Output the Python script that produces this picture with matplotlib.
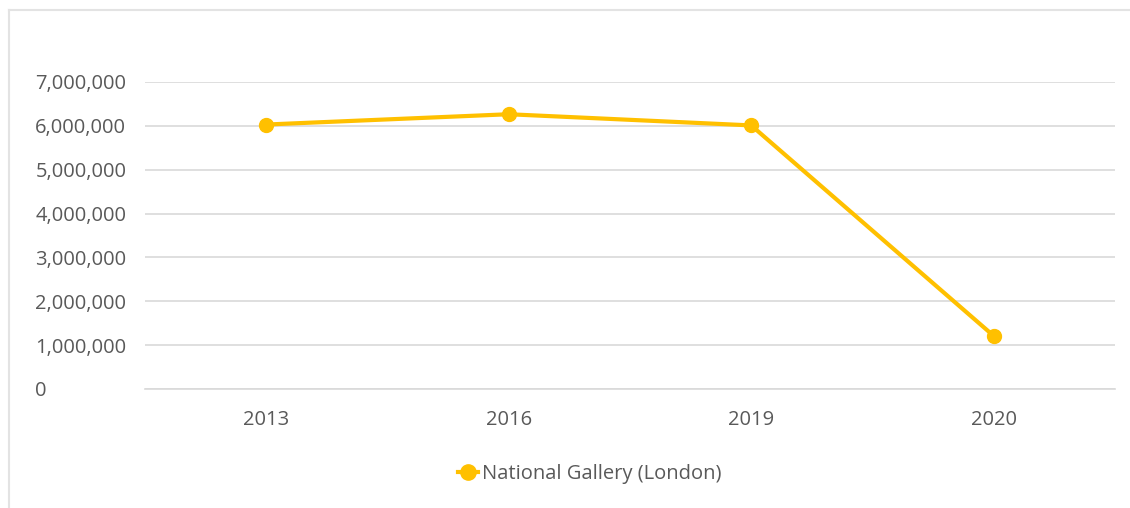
import matplotlib.pyplot as plt
from matplotlib.lines import Line2D
from matplotlib.ticker import FuncFormatter

# dados
anos = ['2013', '2016', '2019', '2020']
visitantes = [6030000, 6265000, 6010000, 1210000]
serie = 'National Gallery (London)'
y_ticks = [0, 1000000, 2000000, 3000000, 4000000, 5000000, 6000000, 7000000]

COR = '#FFC000'
TEXTO = '#595959'
GRADE = '#D9D9D9'
FS = 14.5

plt.rcParams['font.family'] = ['Open Sans', 'DejaVu Sans']

fig = plt.figure(figsize=(11.3, 5.08), dpi=100)
ax = fig.add_axes([145 / 1130, 1 - 389 / 508, (1115 - 145) / 1130, (389 - 82) / 508])

x = range(len(anos))
ax.plot(x, visitantes, color=COR, linewidth=3, marker='o', markersize=10,
        solid_capstyle='round', zorder=3, clip_on=False)

ax.set_xlim(-0.5, len(anos) - 0.5)
ax.set_ylim(0, 7000000)
ax.set_xticks(list(x))
ax.set_xticklabels(anos)
ax.set_yticks(y_ticks)
ax.yaxis.set_major_formatter(FuncFormatter(lambda v, p: f'{int(v):,}'))
ax.grid(axis='y', color=GRADE, linewidth=1.2)
ax.set_axisbelow(True)

for s in ['top', 'right', 'left']:
    ax.spines[s].set_visible(False)
ax.spines['bottom'].set_color(GRADE)
ax.spines['bottom'].set_linewidth(1.2)

ax.tick_params(axis='both', length=0, colors=TEXTO, labelsize=FS)
ax.tick_params(axis='x', pad=15)
for lbl in ax.get_yticklabels():
    lbl.set_horizontalalignment('left')
# rótulos alinhados à esquerda em x ~ 35 px (110 px = 79 pt)
ax.tick_params(axis='y', pad=79)

# borda do gráfico (só topo e esquerda visíveis)
fig.add_artist(Line2D([8.5 / 1130, 8.5 / 1130], [0, 1 - 9.5 / 508], color='#E3E3E3', linewidth=1.5))
fig.add_artist(Line2D([8.5 / 1130, 1], [1 - 9.5 / 508, 1 - 9.5 / 508], color='#E3E3E3', linewidth=1.5))

handle = Line2D([], [], color=COR, linewidth=3, marker='o', markersize=11)
fig.legend([handle], [serie], loc='center', bbox_to_anchor=(590 / 1130, 1 - 474 / 508),
           frameon=False, fontsize=FS, labelcolor=TEXTO, handlelength=1.0, handletextpad=0.2)

fig.savefig('out.png', dpi=100)
